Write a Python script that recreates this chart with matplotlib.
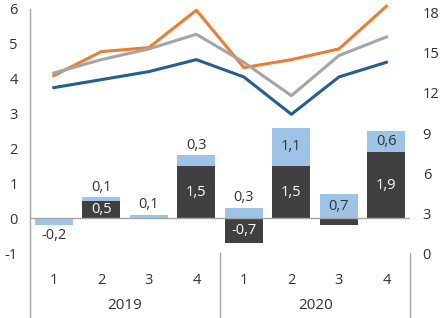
import numpy as np
import matplotlib
matplotlib.use('Agg')
import matplotlib.pyplot as plt
from matplotlib.lines import Line2D
import matplotlib.transforms as mtransforms

plt.rcParams['font.family'] = ['Open Sans', 'DejaVu Sans']
plt.rcParams['axes.unicode_minus'] = False

# data
years = ['2019', '2020']
quarters = ['1', '2', '3', '4', '1', '2', '3', '4']
dark = [0.0, 0.5, 0.0, 1.5, -0.7, 1.5, -0.2, 1.9]
light = [-0.2, 0.1, 0.1, 0.3, 0.3, 1.1, 0.7, 0.6]
orange = [13.3, 15.1, 15.4, 18.2, 13.9, 14.5, 15.3, 18.5]
gray = [13.5, 14.5, 15.3, 16.4, 14.3, 11.8, 14.8, 16.2]
blue = [12.4, 13.0, 13.6, 14.5, 13.2, 10.4, 13.2, 14.3]

c_dark = '#404040'
c_light = '#9DC3E6'
c_txt = '#333333'
c_axis = '#A6A6A6'
fs = 10.5

fig = plt.figure(figsize=(4.42, 3.18), dpi=100)
ax = fig.add_axes([0.068, 0.204, 0.86, 0.768])
x = np.arange(len(dark))

light_bottom = [d if (d > 0 and l > 0) else 0 for d, l in zip(dark, light)]
ax.bar(x, dark, width=0.8, color=c_dark, zorder=2)
ax.bar(x, light, width=0.8, bottom=light_bottom, color=c_light, zorder=2)
ax.axhline(0, color=c_axis, lw=1, zorder=3)

def fmt(v):
    return f'{v:.1f}'.replace('.', ',')

for i in range(len(x)):
    d = dark[i]
    if abs(d) >= 0.5:
        ax.text(x[i], d / 2, fmt(d), ha='center', va='center', color='white', fontsize=fs, zorder=4)
    l = light[i]
    b = light_bottom[i]
    if abs(l) >= 0.5:
        ax.text(x[i], b + l / 2, fmt(l), ha='center', va='center', color=c_txt, fontsize=fs, zorder=4)
    elif l >= 0:
        ax.text(x[i], b + l + 0.08, fmt(l), ha='center', va='bottom', color=c_txt, fontsize=fs, zorder=4)
    else:
        ax.text(x[i], b + l - 0.08, fmt(l), ha='center', va='top', color=c_txt, fontsize=fs, zorder=4)

ax.set_xlim(-0.5, 7.5)
ax.set_ylim(-1, 6)
ax.set_yticks(range(-1, 7))
ax.set_xticks(x)
ax.set_xticklabels(quarters)
ax.tick_params(axis='y', length=0, pad=9, labelsize=fs, labelcolor=c_txt)
ax.tick_params(axis='x', length=0, pad=14, labelsize=fs, labelcolor=c_txt)
for s in ax.spines.values():
    s.set_visible(False)

ax2 = ax.twinx()
ax2.plot(x, orange, color='#ED7D31', lw=2.2, clip_on=False, zorder=5)
ax2.plot(x, gray, color='#A5A5A5', lw=2.2, clip_on=False, zorder=5)
ax2.plot(x, blue, color='#255E91', lw=2.2, clip_on=False, zorder=5)
ax2.set_ylim(0, 18.3)
ax2.set_yticks(range(0, 19, 3))
ax2.tick_params(axis='y', length=0, pad=9, labelsize=fs, labelcolor=c_txt)
for s in ax2.spines.values():
    s.set_visible(False)

# year labels and separators
trans = mtransforms.blended_transform_factory(ax.transData, fig.transFigure)
ax.text(1.5, 0.04, years[0], transform=trans, ha='center', va='center', fontsize=11, color=c_txt)
ax.text(5.5, 0.04, years[1], transform=trans, ha='center', va='center', fontsize=11, color=c_txt)
for xs, y1 in [(-0.5, 0.972), (3.5, 0.204), (7.5, 0.204)]:
    ax.add_line(Line2D([xs, xs], [0.0, y1], transform=trans, color=c_axis, lw=1, clip_on=False))

fig.savefig('out.png', dpi=100)
